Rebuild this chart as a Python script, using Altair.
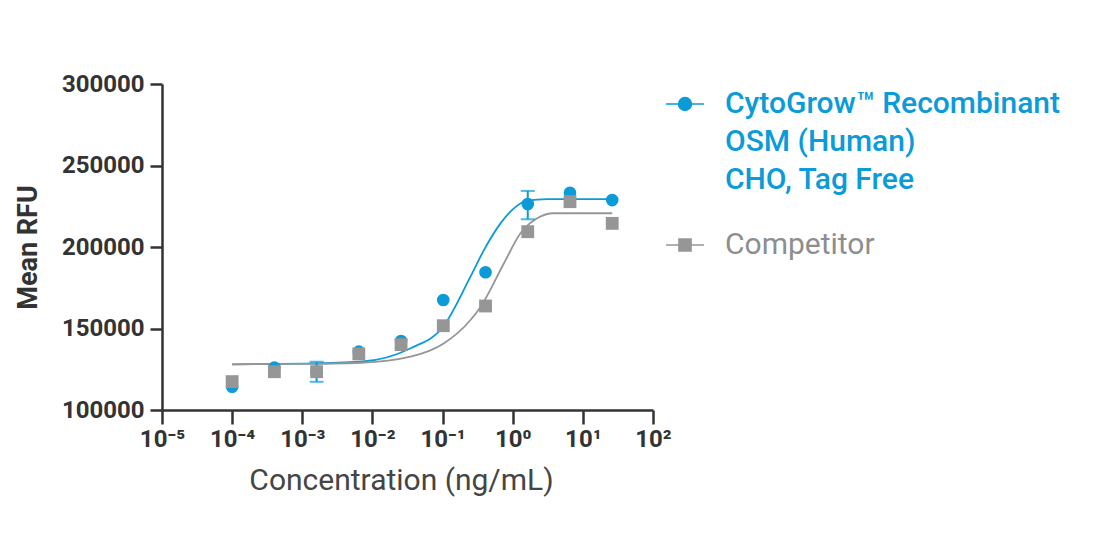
import altair as alt
import pandas as pd

S1 = "CytoGrow™ Recombinant OSM (Human) CHO, Tag Free"
S2 = "Competitor"
BLUE = "#0a9bd8"
GRAY = "#969696"

# measured points
conc = [0.0001, 0.0004, 0.0016, 0.0064, 0.0256, 0.1024, 0.4096, 1.6384, 6.5536, 26.2144]
cyto_rfu = [114300, 126000, 123500, 135800, 142300, 167500, 184500, 226400, 233300, 228800]
comp_rfu = [117400, 123500, 123500, 134400, 140100, 151700, 163800, 209400, 227800, 214500]

# error bars (CytoGrow)
err_conc = [0.0016, 1.6384]
err_lo = [117300, 217000]
err_hi = [129600, 234400]

# fitted curves
fit_conc_cyto = [0.0001, 0.001, 0.0068, 0.035, 0.102, 0.25, 0.39, 0.67, 1.04, 1.6, 3.1, 26.2]
fit_cyto = [128000, 128400, 129600, 137900, 151100, 181800, 198200, 214500, 223700, 228400, 229400, 229400]
fit_conc_comp = [0.0001, 0.001, 0.0068, 0.035, 0.105, 0.25, 0.35, 0.75, 1.29, 2.23, 3.85, 26.2]
fit_comp = [128000, 128300, 129000, 132700, 140900, 155200, 163400, 190000, 208400, 217600, 220700, 220700]

x_ticks = [1e-5, 1e-4, 1e-3, 1e-2, 1e-1, 1e0, 1e1, 1e2]
y_ticks = [100000, 150000, 200000, 250000, 300000]

pts_cyto = pd.DataFrame({"conc": conc, "rfu": cyto_rfu})
pts_comp = pd.DataFrame({"conc": conc, "rfu": comp_rfu})
fits = pd.DataFrame({
    "conc": fit_conc_cyto + fit_conc_comp,
    "rfu": fit_cyto + fit_comp,
    "series": [S1] * len(fit_cyto) + [S2] * len(fit_comp),
})
errs = pd.DataFrame({"conc": err_conc, "lo": err_lo, "hi": err_hi})

sup = "['⁻⁵','⁻⁴','⁻³','⁻²','⁻¹','⁰','¹','²'][round(log(datum.value)/LN10)+5]"

xscale = alt.Scale(type="log", domain=[1e-5, 100], nice=False)
yscale = alt.Scale(domain=[100000, 300000], nice=False, zero=False)

xaxis = alt.Axis(values=x_ticks, labelExpr="'10' + " + sup, title="Concentration (ng/mL)",
                 tickSize=14, labelPadding=3, titleFontWeight="normal", titleFontSize=30,
                 titleColor="#454545", titlePadding=14, labelFlush=False, titleX=239)
yaxis = alt.Axis(values=y_ticks, format="d", title="Mean RFU", tickSize=12, labelPadding=6,
                 titleFontSize=27, titleFontWeight="bold", titlePadding=19, titleColor="#333333")

CIRC = "M-1,0H-0.34A0.34,0.34,0,1,1,0.34,0A0.34,0.34,0,1,1,-0.34,0M0.34,0H1"
SQR = "M-1,0H-0.32V-0.32H0.32V0.32H-0.32V0M0.32,0H1"

legend = alt.Legend(
    title=None, orient="none", legendX=503, legendY=0,
    labelExpr="datum.value == 'Competitor' ? 'Competitor' : ['CytoGrow™ Recombinant', 'OSM (Human)', 'CHO, Tag Free']",
    labelFont="Roboto", labelFontSize=30,
    labelFontWeight={"expr": "datum.value == 'Competitor' ? 400 : 500"},
    labelColor={"expr": "datum.value == 'Competitor' ? '#8e8e8e' : '" + BLUE + "'"},
    symbolType={"expr": "datum.value == 'Competitor' ? '" + SQR + "' : '" + CIRC + "'"},
    symbolStrokeColor={"expr": "datum.value == 'Competitor' ? '" + GRAY + "' : '" + BLUE + "'"},
    symbolFillColor={"expr": "datum.value == 'Competitor' ? '" + GRAY + "' : '" + BLUE + "'"},
    symbolSize=1444, symbolStrokeWidth=1.5, symbolOpacity=1,
    labelOffset=20, labelLimit=0, rowPadding=30, labelBaseline="middle",
)

cscale = alt.Scale(domain=[S1, S2], range=[BLUE, GRAY])

lines = alt.Chart(fits).mark_line(interpolate="monotone", strokeWidth=1.8).encode(
    x=alt.X("conc:Q", scale=xscale, axis=xaxis),
    y=alt.Y("rfu:Q", scale=yscale, axis=yaxis),
    color=alt.Color("series:N", scale=cscale, legend=legend),
    detail="series:N",
)

ebar = alt.Chart(errs).mark_rule(color=BLUE, strokeWidth=2).encode(
    x="conc:Q", y="lo:Q", y2="hi:Q")
cap_lo = alt.Chart(errs).mark_tick(color=BLUE, orient="horizontal", size=14, thickness=2).encode(
    x="conc:Q", y="lo:Q")
cap_hi = alt.Chart(errs).mark_tick(color=BLUE, orient="horizontal", size=14, thickness=2).encode(
    x="conc:Q", y="hi:Q")

pc = alt.Chart(pts_cyto).mark_point(filled=True, opacity=1, size=160, shape="circle", color=BLUE).encode(
    x="conc:Q", y="rfu:Q")
pg = alt.Chart(pts_comp).mark_point(filled=True, opacity=1, size=165, shape="square", color=GRAY).encode(
    x="conc:Q", y="rfu:Q")

chart = alt.layer(lines, ebar, cap_lo, cap_hi, pc, pg).properties(
    width=491, height=326,
    autosize=alt.AutoSizeParams(type="none"),
    padding={"left": 154, "top": 76, "right": 443, "bottom": 112},
).configure(
    style={"guide-label": {"lineHeight": 38}},
    view=alt.ViewConfig(stroke=None),
    axis=alt.AxisConfig(
        grid=False, domainColor="#333333", domainWidth=2.5, tickColor="#333333", tickWidth=2.5,
        labelFont="Roboto", labelFontSize=24, labelFontWeight="bold", labelColor="#333333",
        titleFont="Roboto",
    ),
)

chart.save("out.html", embed_options={"renderer": "svg", "actions": False})
